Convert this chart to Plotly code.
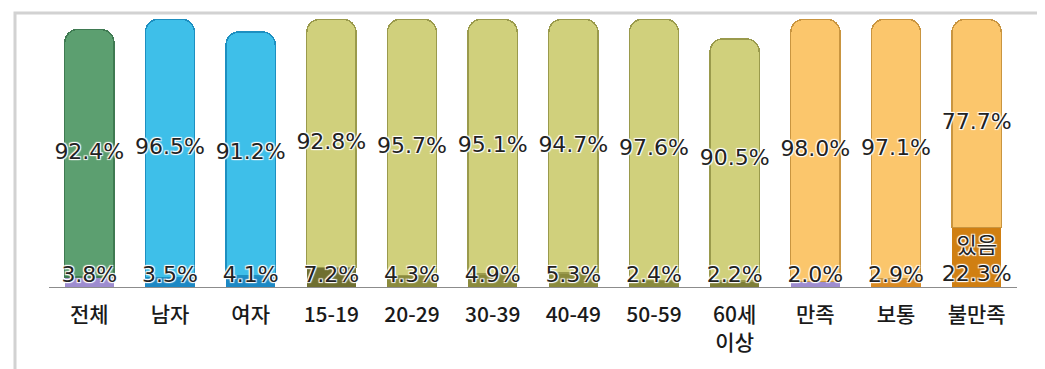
"""
Stacked pill-style bar chart: share of respondents by group (Korean survey).
"""

import plotly.graph_objects as go

# --- data -------------------------------------------------------------
categories = ["전체", "남자", "여자", "15-19", "20-29", "30-39", "40-49",
              "50-59", "60세<br>이상", "만족", "보통", "불만족"]
bottom_values = [3.8, 3.5, 4.1, 7.2, 4.3, 4.9, 5.3, 2.4, 2.2, 2.0, 2.9, 22.3]
top_values = [92.4, 96.5, 91.2, 92.8, 95.7, 95.1, 94.7, 97.6, 90.5, 98.0, 97.1, 77.7]
bottom_names = ["", "", "", "", "", "", "", "", "", "", "", "있음"]

# --- styling ----------------------------------------------------------
GREEN = "#5c9f70"
BLUE = "#3ebfe9"
OLIVE = "#d0d07c"
ORANGE = "#fbc66c"
top_colors = [GREEN, BLUE, BLUE] + [OLIVE] * 6 + [ORANGE] * 3
top_lines = ["#3f7a52", "#1d8fc0", "#1d8fc0"] + ["#9a9a4c"] * 6 + ["#c99540"] * 3
bottom_colors = ["#9d8ccf", "#1c88c4", "#1c88c4", "#6f6f30", "#8a8a3c", "#8a8a3c",
                 "#8a8a3c", "#8a8a3c", "#7e7e36", "#9d8ccf", "#d98a22", "#d07f12"]

W, H = 1045, 369
M_L, M_R, M_T, M_B = 41, 36, 10, 90

HALO = ("1px 1px 1px #fff, -1px -1px 1px #fff, "
        "1px -1px 1px #fff, -1px 1px 1px #fff")
LABEL_FONT = dict(family="DejaVu Sans, Noto Sans CJK KR", size=22,
                  color="#222222", shadow=HALO)

bottom_text = [
    (name + "<br>" if name else "") + f"{v:.1f}%"
    for name, v in zip(bottom_names, bottom_values)
]
# top labels sit in the middle of the upper segment
top_mid = [b + t / 2 for b, t in zip(bottom_values, top_values)]

fig = go.Figure()

fig.add_trace(
    go.Bar(
        x=categories,
        y=bottom_values,
        marker=dict(color=bottom_colors, line=dict(width=0)),
        hoverinfo="skip",
        textposition="none",
    )
)

fig.add_trace(
    go.Bar(
        x=categories,
        y=top_values,
        marker=dict(color=top_colors, line=dict(color=top_lines, width=1.5)),
        textposition="none",
        hoverinfo="skip",
    )
)

fig.add_trace(
    go.Scatter(
        x=categories,
        y=top_mid,
        mode="text",
        text=[f"{v:.1f}%" for v in top_values],
        textposition="middle center",
        textfont=LABEL_FONT,
        hoverinfo="skip",
        cliponaxis=False,
    )
)

# labels for the thin bottom segments, sitting on the baseline
fig.add_trace(
    go.Scatter(
        x=categories,
        y=[0] * len(categories),
        mode="text",
        text=bottom_text,
        textposition="top center",
        textfont=LABEL_FONT,
        hoverinfo="skip",
        cliponaxis=False,
    )
)

# light frame along the top and left edge of the picture
plot_w = W - M_L - M_R
plot_h = H - M_T - M_B
x_left = (7 - M_L) / plot_w
y_top = (H - M_B - 5) / plot_h
x_right = (W - M_L) / plot_w
y_bottom = (H - M_B - H) / plot_h

fig.add_shape(type="path", xref="paper", yref="paper",
              path=f"M {x_right},{y_top} L {x_left},{y_top} L {x_left},{y_bottom}",
              line=dict(color="#d2d2d2", width=3))

fig.update_layout(
    width=W,
    height=H,
    margin=dict(l=M_L, r=M_R, t=M_T, b=M_B),
    paper_bgcolor="white",
    plot_bgcolor="white",
    barmode="stack",
    bargap=0.39,
    barcornerradius=13,
    showlegend=False,
    font=dict(family="Noto Sans CJK KR, sans-serif", color="#1a1a1a"),
    xaxis=dict(
        range=[-0.5, len(categories) - 0.5],
        showline=True,
        linecolor="#8c8c8c",
        linewidth=1,
        showgrid=False,
        ticks="",
        ticklabelstandoff=9,
        tickfont=dict(family="Noto Sans CJK KR", size=21, color="#1a1a1a",
                      weight=500),
        fixedrange=True,
    ),
    yaxis=dict(
        range=[0, 100.5],
        visible=False,
        fixedrange=True,
    ),
)

fig.write_html("out.html")
